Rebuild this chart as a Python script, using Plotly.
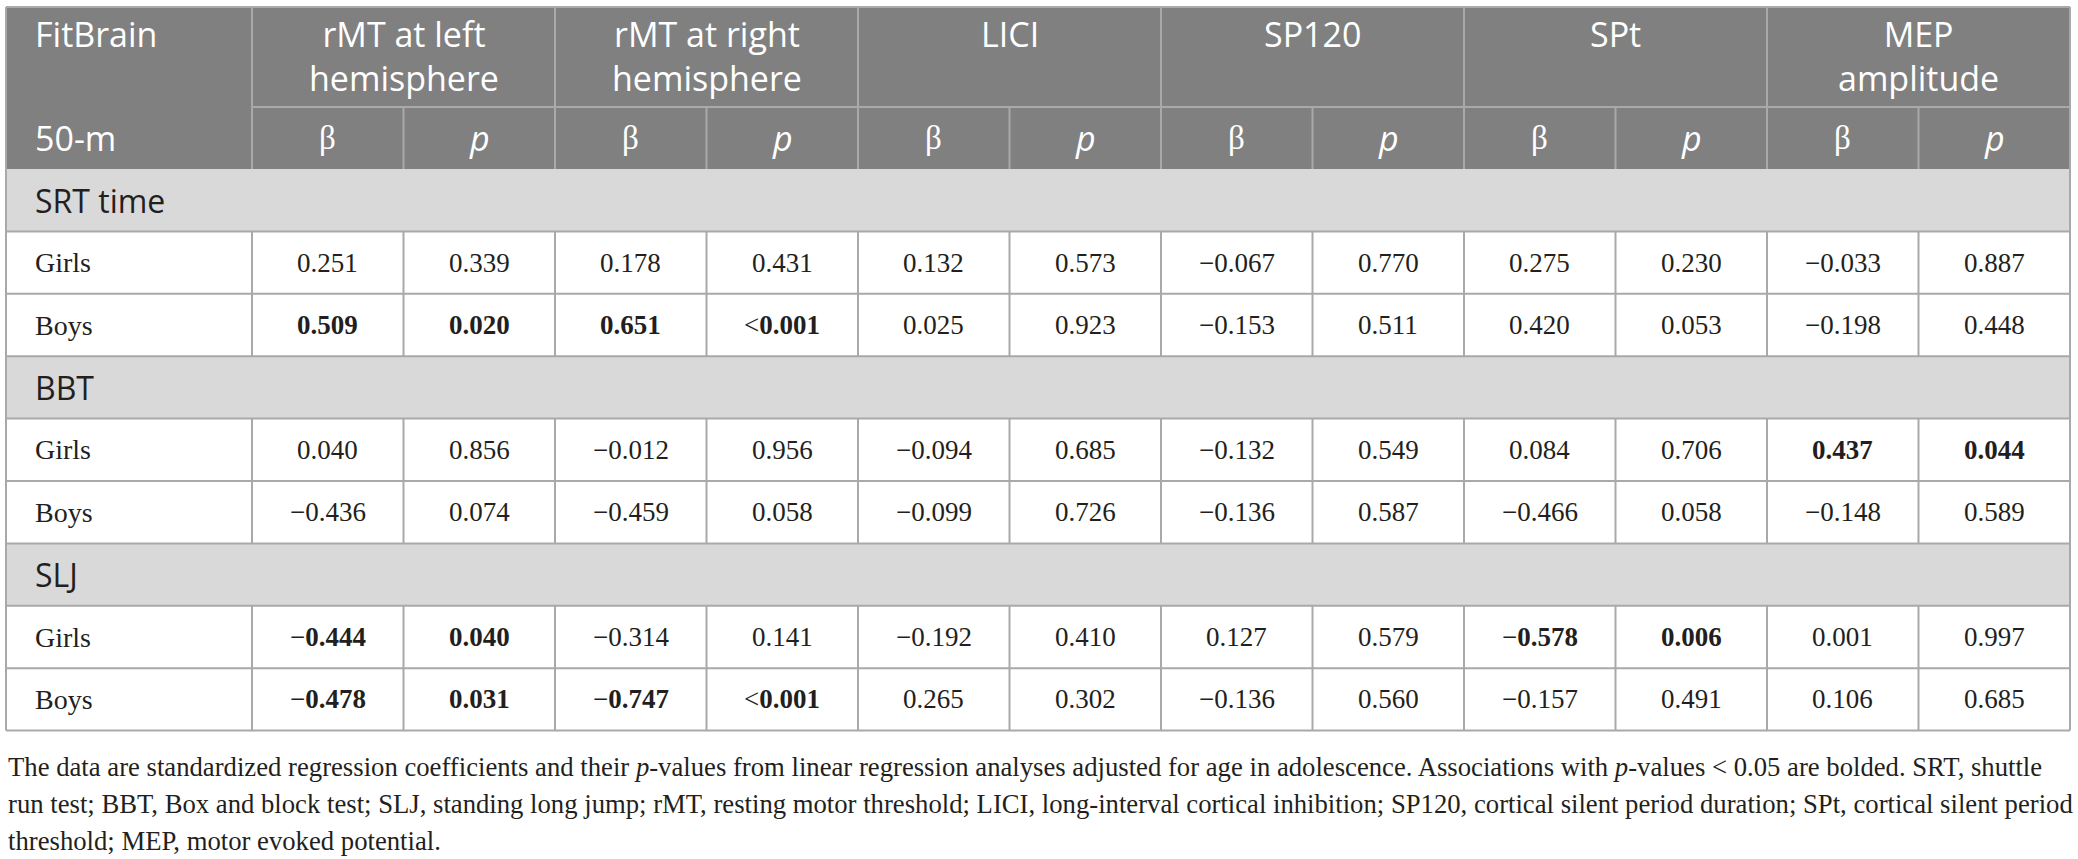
import plotly.graph_objects as go

# ---- table content -------------------------------------------------------
measures = ["rMT at left<br>hemisphere", "rMT at right<br>hemisphere", "LICI",
            "SP120", "SPt", "MEP<br>amplitude"]
sections = ["SRT time", "BBT", "SLJ"]
groups = ["Girls", "Boys"]

# standardized betas, [girls, boys], one per measure
beta_srt = [[0.251, 0.178, 0.132, -0.067, 0.275, -0.033],
            [0.509, 0.651, 0.025, -0.153, 0.420, -0.198]]
beta_bbt = [[0.040, -0.012, -0.094, -0.132, 0.084, 0.437],
            [-0.436, -0.459, -0.099, -0.136, -0.466, -0.148]]
beta_slj = [[-0.444, -0.314, -0.192, 0.127, -0.578, 0.001],
            [-0.478, -0.747, 0.265, -0.136, -0.157, 0.106]]

# p-values as printed
p_srt = [["0.339", "0.431", "0.573", "0.770", "0.230", "0.887"],
         ["0.020", "<0.001", "0.923", "0.511", "0.053", "0.448"]]
p_bbt = [["0.856", "0.956", "0.685", "0.549", "0.706", "0.044"],
         ["0.074", "0.058", "0.726", "0.587", "0.058", "0.589"]]
p_slj = [["0.040", "0.141", "0.410", "0.579", "0.006", "0.997"],
         ["0.031", "<0.001", "0.302", "0.560", "0.491", "0.685"]]

footnote_lines = [
    "The data are standardized regression coefficients and their <i>p</i>-values from linear regression "
    "analyses adjusted for age in adolescence. Associations with <i>p</i>-values &lt; 0.05 are bolded. SRT, shuttle",
    "run test; BBT, Box and block test; SLJ, standing long jump; rMT, resting motor threshold; LICI, "
    "long-interval cortical inhibition; SP120, cortical silent period duration; SPt, cortical silent period",
    "threshold; MEP, motor evoked potential.",
]

# ---- layout constants ----------------------------------------------------
W, H = 2078, 859
LEFT, RIGHT = 6, 2070
FIRST_COL = 252
TOP, HEAD_MID, HEAD_BOT = 7, 107, 169
ROW_H = 62.4
PAD = 27
COL_W = (RIGHT - FIRST_COL) / (2 * len(measures))

HEAD_BG = "#808080"
SECTION_BG = "#d9d9d9"
GRID = "#a9a9a9"
SANS = "Open Sans"
SERIF = "Liberation Serif"
BLACK = "#231f20"

fig = go.Figure()
shapes = []
annotations = []


def line(x0, y0, x1, y1):
    shapes.append(dict(type="line", x0=x0, y0=y0, x1=x1, y1=y1,
                       line=dict(color=GRID, width=2), layer="above"))


def fmt_beta(v, bold):
    s = f"{abs(v):.3f}"
    if bold:
        s = f"<b>{s}</b>"
    return ("\u2212" + s) if v < 0 else s


def fmt_p(s, bold):
    less = s.startswith("<")
    num = s.lstrip("<")
    if bold:
        num = f"<b>{num}</b>"
    return ("&lt;" + num) if less else num


# header background
shapes.append(dict(type="rect", x0=LEFT, x1=RIGHT, y0=TOP, y1=HEAD_BOT,
                   fillcolor=HEAD_BG, line=dict(width=0), layer="below"))

head_font = dict(family=SANS, size=34, color="white")
annotations.append(dict(x=LEFT + PAD, y=TOP + 2, text="FitBrain", xanchor="left", yanchor="top",
                        showarrow=False, font=head_font))
annotations.append(dict(x=LEFT + PAD, y=(HEAD_MID + HEAD_BOT) / 2, text="50-m", xanchor="left",
                        yanchor="middle", showarrow=False, font=head_font))

for i, m in enumerate(measures):
    x0 = FIRST_COL + 2 * i * COL_W
    annotations.append(dict(x=x0 + COL_W, y=TOP + 2, text=m, xanchor="center", yanchor="top",
                            align="center", showarrow=False, font=head_font))
    annotations.append(dict(x=x0 + COL_W / 2, y=(HEAD_MID + HEAD_BOT) / 2, text="\u03b2",
                            xanchor="center", yanchor="middle", showarrow=False,
                            font=dict(family=SERIF, size=33, color="white")))
    annotations.append(dict(x=x0 + 1.5 * COL_W, y=(HEAD_MID + HEAD_BOT) / 2, text="<i>p</i>",
                            xanchor="center", yanchor="middle", showarrow=False, font=head_font))
    # header grid
    line(x0, TOP, x0, HEAD_BOT)
    line(x0 + COL_W, HEAD_MID, x0 + COL_W, HEAD_BOT)
line(FIRST_COL, HEAD_MID, RIGHT, HEAD_MID)

# body rows
betas = [beta_srt, beta_bbt, beta_slj]
pvals = [p_srt, p_bbt, p_slj]
y = HEAD_BOT
for s, sec in enumerate(sections):
    shapes.append(dict(type="rect", x0=LEFT, x1=RIGHT, y0=y, y1=y + ROW_H,
                       fillcolor=SECTION_BG, line=dict(width=0), layer="below"))
    annotations.append(dict(x=LEFT + PAD, y=y + ROW_H / 2, text=sec, xanchor="left",
                            yanchor="middle", showarrow=False,
                            font=dict(family=SANS, size=32, color=BLACK)))
    y += ROW_H
    line(LEFT, y, RIGHT, y)
    for g, grp in enumerate(groups):
        yc = y + ROW_H / 2
        annotations.append(dict(x=LEFT + PAD, y=yc, text=grp, xanchor="left", yanchor="middle",
                                showarrow=False, font=dict(family=SERIF, size=28, color=BLACK)))
        for i in range(len(measures)):
            b = betas[s][g][i]
            p = pvals[s][g][i]
            bold = float(p.lstrip("<")) < 0.05
            x0 = FIRST_COL + 2 * i * COL_W
            annotations.append(dict(x=x0 + COL_W / 2, y=yc, text=fmt_beta(b, bold),
                                    xanchor="center", yanchor="middle", showarrow=False,
                                    font=dict(family=SERIF, size=27, color=BLACK)))
            annotations.append(dict(x=x0 + 1.5 * COL_W, y=yc, text=fmt_p(p, bold),
                                    xanchor="center", yanchor="middle", showarrow=False,
                                    font=dict(family=SERIF, size=27, color=BLACK)))
        for c in range(2 * len(measures)):
            xc = FIRST_COL + c * COL_W
            line(xc, y, xc, y + ROW_H)
        y += ROW_H
        line(LEFT, y, RIGHT, y)

# outer border
line(LEFT, TOP, RIGHT, TOP)
line(LEFT, TOP, LEFT, y)
line(RIGHT, TOP, RIGHT, y)

# footnote
for k, txt in enumerate(footnote_lines):
    annotations.append(dict(x=LEFT, y=y + 36 + k * 37, text=txt, xanchor="left", yanchor="middle",
                            showarrow=False, font=dict(family=SERIF, size=26.7, color=BLACK)))

fig.update_layout(
    width=W, height=H, autosize=False,
    margin=dict(l=0, r=0, t=0, b=0),
    paper_bgcolor="white", plot_bgcolor="white",
    xaxis=dict(range=[0, W], visible=False, fixedrange=True),
    yaxis=dict(range=[H, 0], visible=False, fixedrange=True),
    shapes=shapes, annotations=annotations, showlegend=False,
)

# drop the browser's default body margin so the figure sits at the page origin
fig.write_html("out.html", config={"displayModeBar": False},
               post_script="document.body.style.margin='0px';")
